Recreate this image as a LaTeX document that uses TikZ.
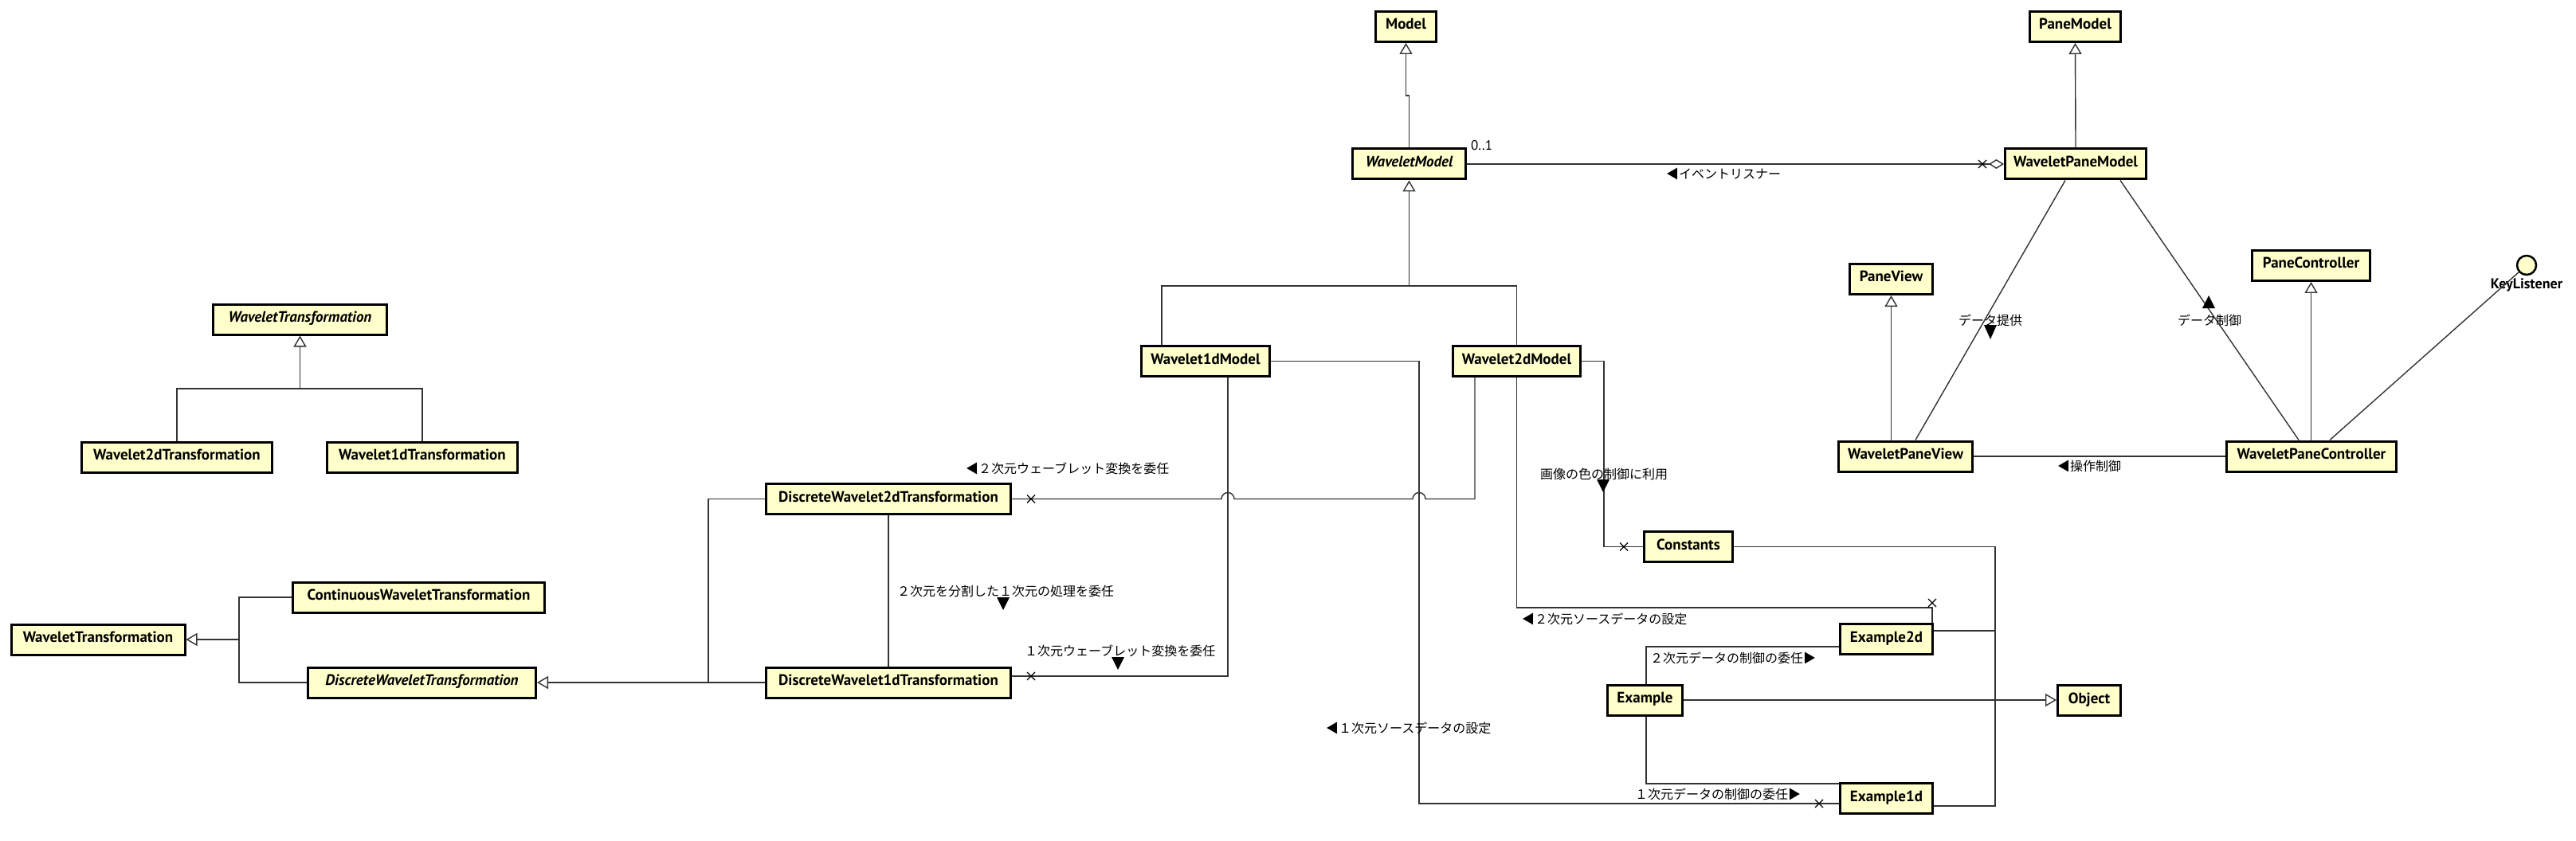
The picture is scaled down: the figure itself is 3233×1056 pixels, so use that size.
\documentclass[tikz,border=0pt]{standalone}
\usepackage{fontspec}
\setmainfont{PT Sans}
\newfontfamily\jpfont{Noto Sans CJK JP}
\usetikzlibrary{arrows.meta}
\definecolor{boxfill}{RGB}{255,255,204}
\tikzset{
  cls/.style={draw=black, line width=3pt, fill=boxfill, inner sep=0pt, minimum height=38pt, text height=13pt, text depth=6pt, font=\fontsize{19}{22}\selectfont\bfseries},
  abscls/.style={cls, font=\fontsize{19}{22}\selectfont\bfseries\itshape},
  conn/.style={line width=1.4pt, draw=black!80},
  gen/.style={conn, -{Triangle[open, length=14pt, width=16pt]}},
  agg/.style={conn, -{Diamond[open, length=19pt, width=12pt]}},
  lbl/.style={font=\jpfont\fontsize{16}{18}\selectfont, inner sep=0pt, anchor=west},
  latlbl/.style={font=\fontsize{17}{19}\selectfont, inner sep=0pt, anchor=west},
  navx/.style={line width=1.2pt, draw=black},
  dirtri/.style={fill=black, draw=none},
}
\newcommand\navcross[1]{\draw[navx] (#1) +(-5,-5) -- +(5,5) +(-5,5) -- +(5,-5);}
\begin{document}
\begin{tikzpicture}[x=1pt,y=-1pt]
\fill[white] (0,0) rectangle (3233,1056);
\useasboundingbox (0,0) rectangle (3233,1056);

% ---------- classes ----------
\node[cls, minimum width=76] (Model) at (1764.5,33.5) {Model};
\node[abscls, minimum width=142] (WM) at (1768.5,206) {WaveletModel};
\node[cls, minimum width=114] (PM) at (2604.5,33.5) {PaneModel};
\node[cls, minimum width=177] (WPM) at (2605,206) {WaveletPaneModel};
\node[abscls, minimum width=218] (WTa) at (376.5,401) {WaveletTransformation};
\node[cls, minimum width=104] (PV) at (2373.5,350.5) {PaneView};
\node[cls, minimum width=148] (PC) at (2900.5,333.5) {PaneController};
\node[circle, draw=black, line width=2.5pt, fill=boxfill, minimum size=24pt, inner sep=0pt] (KL) at (3171,333) {};
\node[font=\fontsize{18}{20}\selectfont\bfseries, inner sep=0pt] (KLt) at (3171,358) {KeyListener};
\node[cls, minimum width=161] (W1M) at (1513,453.5) {Wavelet1dModel};
\node[cls, minimum width=160] (W2M) at (1903.5,453.5) {Wavelet2dModel};
\node[cls, minimum width=239] (W2T) at (222,574) {Wavelet2dTransformation};
\node[cls, minimum width=239] (W1T) at (530,574) {Wavelet1dTransformation};
\node[cls, minimum width=168] (WPV) at (2391.5,573) {WaveletPaneView};
\node[cls, minimum width=213] (WPC) at (2901,573) {WaveletPaneController};
\node[cls, minimum width=307] (DW2) at (1115,626.5) {DiscreteWavelet2dTransformation};
\node[cls, minimum width=111] (Const) at (2119,686.5) {Constants};
\node[cls, minimum width=316] (CWT) at (525.5,750) {ContinuousWaveletTransformation};
\node[cls, minimum width=218] (WT) at (123,803) {WaveletTransformation};
\node[cls, minimum width=116] (Ex2) at (2367.5,802.5) {Example2d};
\node[abscls, minimum width=286] (DWT) at (529.5,857) {DiscreteWaveletTransformation};
\node[cls, minimum width=307] (DW1) at (1115,857) {DiscreteWavelet1dTransformation};
\node[cls, minimum width=94] (Ex) at (2064.5,879) {Example};
\node[cls, minimum width=79] (Obj) at (2622,879.5) {Object};
\node[cls, minimum width=116] (Ex1) at (2367.5,1002.5) {Example1d};

% ---------- generalizations ----------
\draw[gen] (WM.north) -- (1768.5,120) -- (1764.5,120) -- (Model.south);
\draw[gen] ([xshift=-55pt]W1M.north) |- (1768.5,359) -- (WM.south);
\draw[conn] (W2M.north) |- (1768.5,359);
\draw[gen] (WPM.north) -- (PM.south);
\draw[gen] (W2T.north) |- (376.5,488) -- (WTa.south);
\draw[conn] (W1T.north) |- (376.5,488);
\draw[gen] (WPV.north -| PV.south) -- (PV.south);
\draw[gen] (WPC.north -| PC.south) -- (PC.south);
\draw[gen] (DWT.west) -- (300,857) -- (300,803) -- (WT.east);
\draw[conn] (CWT.west) -- (300,750) -- (300,803);
\draw[gen] (DW1.west) -- (DWT.east);
\draw[conn] (DW2.west) -- (889,626.5) -- (889,857);
\draw[gen] (Ex.east) -- (Ex.east -| Obj.west);
\draw[conn] (Const.east) -- (2504,686.5) -- (2504,1012) -- ([yshift=-9.5pt]Ex1.east);
\draw[conn] ([yshift=10.5pt]Ex2.east) -- (2504,792);

% ---------- associations ----------
\draw[agg] (WM.east) -- (WM.east -| WPM.west);
\navcross{2488,206}
\node[latlbl] (m01) at (1846,183) {0..1};
\node[lbl] (lEvent) at (2091,218) {◀イベントリスナー};

\draw[conn] ([xshift=-13pt]WPM.south) -- ([xshift=12.5pt]WPV.north);
\draw[conn] ([xshift=56pt]WPM.south) -- ([xshift=-16pt]WPC.north);
\draw[conn] ([xshift=23pt]WPC.north) -- (KL);
\draw[conn] (WPV.east) -- (WPC.west);
\node[lbl] (lData1) at (2458,402) {データ提供};
\fill[dirtri] (2490,408) -- (2506,408) -- (2498,426) -- cycle;
\node[lbl] (lData2) at (2733,402) {データ制御};
\fill[dirtri] (2764,387) -- (2780,387) -- (2772,371) -- cycle;
\node[lbl] (lOp) at (2582,585) {◀操作制御};

\draw[conn] (DW2.south) -- (DW1.north);
\node[lbl] (lSplit) at (1126,742) {２次元を分割した１次元の処理を委任};
\fill[dirtri] (1251,750) -- (1267,750) -- (1259,766) -- cycle;

\draw[conn] ([xshift=28pt]W1M.south) |- ([yshift=8pt]DW1.east);
\navcross{1294,849}
\node[lbl] (l1dw) at (1286,817) {１次元ウェーブレット変換を委任};
\fill[dirtri] (1395,825) -- (1411,825) -- (1403,841) -- cycle;

\draw[conn] ([xshift=-52.5pt]W2M.south) -- (1851,626.5) -- (1789,626.5)
  arc[start angle=0, end angle=-180, radius=8] -- (1549,626.5)
  arc[start angle=0, end angle=-180, radius=8] -- (DW2.east);
\navcross{1294,626.5}
\node[lbl] (l2dw) at (1212,588) {◀２次元ウェーブレット変換を委任};

\draw[conn] (W1M.east) -- (1781,453.5) -- (1781,1009) -- ([yshift=-6.5pt]Ex1.west);
\navcross{2283,1009}
\node[lbl] (l1src) at (1664,914) {◀１次元ソースデータの設定};

\draw[conn] (W2M.east) -- (2013,453.5) |- (Const.west);
\navcross{2038,686.5}
\node[lbl] (lColor) at (1933,595) {画像の色の制御に利用};
\fill[dirtri] (2004,602) -- (2020,602) -- (2012,618) -- cycle;

\draw[conn] (W2M.south) -- (1903.5,763) -- (2425,763) -- ([xshift=57.5pt]Ex2.north);
\navcross{2425,757}
\node[lbl] (l2src) at (1910,777) {◀２次元ソースデータの設定};

\draw[conn] ([xshift=1.5pt]Ex.north) |- ([yshift=-9.5pt]Ex2.west);
\node[lbl] (l2ctl) at (2071,826) {２次元データの制御の委任▶};
\draw[conn] ([xshift=1.5pt]Ex.south) |- ([yshift=18.5pt]Ex1.west);
\node[lbl] (l1ctl) at (2052,997) {１次元データの制御の委任▶};
\end{tikzpicture}
\end{document}
